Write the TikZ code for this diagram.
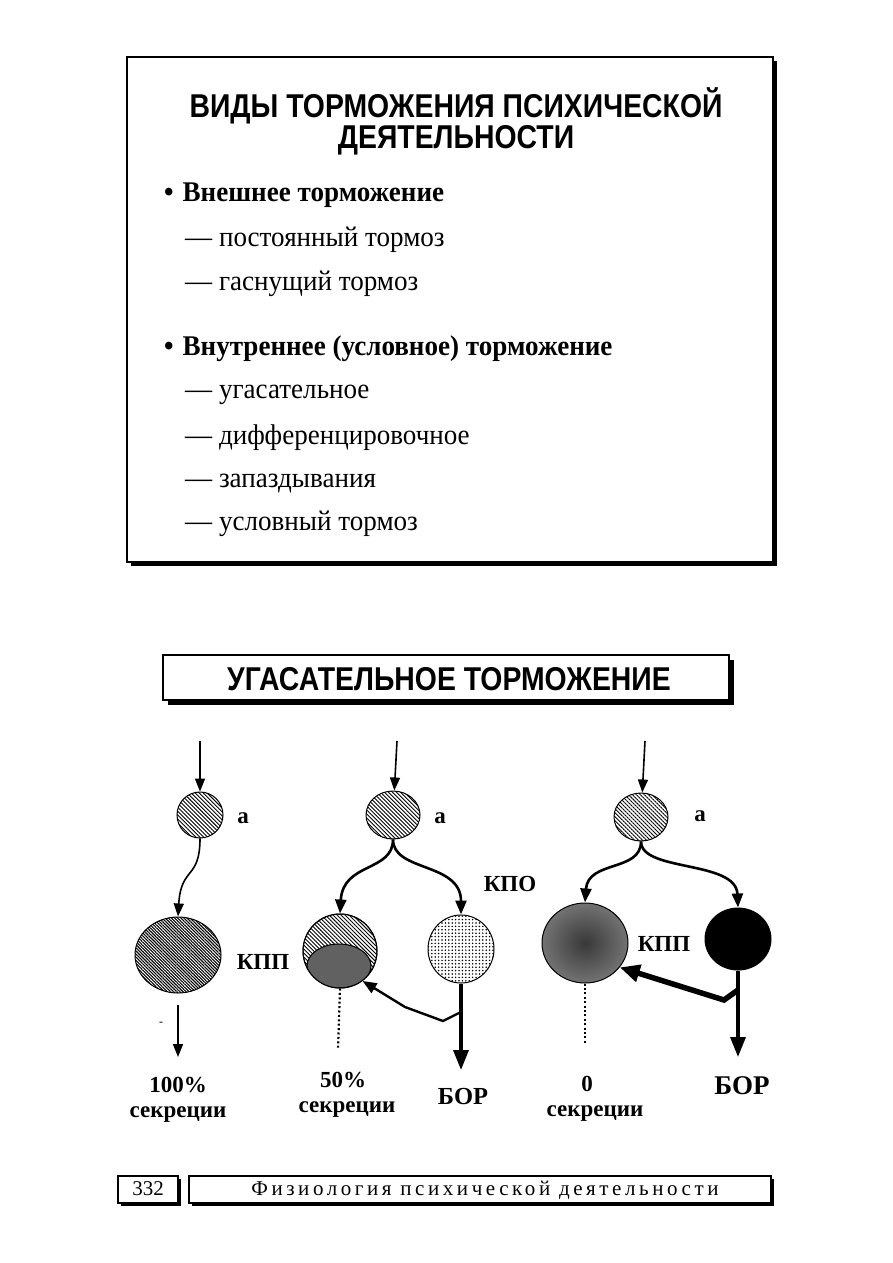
\documentclass[tikz,border=0pt]{standalone}
\usepackage{fontspec}
\setmainfont{Liberation Serif}
\newfontfamily\headfont[FakeStretch=0.86]{Liberation Sans}
\newfontfamily\bodyfont[FakeStretch=0.95]{Liberation Serif}
\usetikzlibrary{arrows.meta,patterns.meta,shapes.geometric}

\begin{document}
\begin{tikzpicture}[x=1pt, y=-1pt,
frame/.style={draw, line width=1.2pt, fill=white},
heading/.style={font=\headfont\bfseries\fontsize{33}{36}\selectfont, inner sep=0pt},
entry/.style={anchor=base west, inner sep=0pt, font=\bodyfont\fontsize{28.5}{30}\selectfont},
point/.style={entry, font=\bodyfont\bfseries\fontsize{28.5}{30}\selectfont},
tag/.style={inner sep=0pt, font=\bfseries\fontsize{23}{26}\selectfont},
note/.style={tag, anchor=base, font=\bfseries\fontsize{23}{26}\selectfont},
cell/.style={ellipse, draw, line width=1pt, inner sep=0pt},
hatch/.style={pattern={Lines[angle=-45, distance=2.8pt, line width=0.9pt]}},
dense/.style={pattern={Lines[angle=-45, distance=2.2pt, line width=1.1pt]}},
arrow/.style={-{Triangle[length=13pt, width=10pt]}, line width=1.6pt},
fork/.style={-{Triangle[length=14pt, width=11pt]}, line width=2.6pt},
outlet/.style={-{Triangle[length=20pt, width=15pt]}, line width=3.4pt},
trace/.style={line width=2.2pt, dash pattern=on 2pt off 2.4pt}
]
\useasboundingbox (0,0) rectangle (893,1263);

\fill (131,61) rectangle (777,566);
\draw[frame] (127,57) rectangle (773,562);
\node[heading] (t1) at (456,106) {ВИДЫ ТОРМОЖЕНИЯ ПСИХИЧЕСКОЙ};
\node[heading] (t2) at (456,140) {ДЕЯТЕЛЬНОСТИ};

\node[point] (b1) at (164,201) {\textbullet\hspace{9pt}Внешнее торможение};
\node[entry] (e1) at (185,246) {— постоянный тормоз};
\node[entry] (e2) at (185,290) {— гаснущий тормоз};
\node[point] (b2) at (164,355) {\textbullet\hspace{9pt}Внутреннее (условное) торможение};
\node[entry] (e3) at (185,398) {— угасательное};
\node[entry] (e4) at (185,444) {— дифференцировочное};
\node[entry] (e5) at (185,487) {— запаздывания};
\node[entry] (e6) at (185,530) {— условный тормоз};

\fill (168,660) rectangle (734,705);
\draw[frame] (163,655) rectangle (729,700);
\node[heading] (t3) at (449,679) {УГАСАТЕЛЬНОЕ ТОРМОЖЕНИЕ};

\coordinate (in1) at (200,741);
\node[cell, hatch, minimum width=46pt, minimum height=46pt] (a1) at (200,815) {};
\node[tag] (la1) at (243,818) {а};
\node[cell, dense, minimum width=86pt, minimum height=76pt] (k1) at (178,955) {};
\node[tag] (lk1) at (263,962) {КПП};
\coordinate (o1) at (178,1057);
\node[inner sep=0pt, font=\fontsize{12}{12}\selectfont] (m1) at (161,1024) {-};
\node[note] (p1) at (178,1092) {100\%};
\node[note] (s1) at (178,1117) {секреции};
\draw[arrow] (in1) -- (a1);
\draw[arrow] (a1.south) .. controls (200,880) and (181,866) .. (k1.north);
\draw[arrow, shorten <=11pt] (k1) -- (o1);

\coordinate (in2) at (397,741);
\node[cell, hatch, minimum width=54pt, minimum height=48pt] (a2) at (393,815) {};
\node[tag] (la2) at (440,818) {а};
\node[tag] (lk2) at (510,884) {КПО};
\node[cell, hatch, minimum width=74pt, minimum height=74pt] (k2) at (340,951) {};
\begin{scope}
\clip (340,951) circle (37pt);
\draw[line width=1pt, fill=black!62] (339,966) ellipse (32pt and 22pt);
\end{scope}
\draw[line width=1pt] (340,951) circle (37pt);
\node[cell, pattern={Dots[distance=3.4pt, radius=0.85pt]}, minimum width=66pt, minimum height=68pt] (r2) at (461,949) {};
\coordinate (d2) at (338,1050);
\coordinate (o2) at (461,1070);
\coordinate (j2) at (461,1012);
\node[note] (p2) at (343,1087) {50\%};
\node[note] (s2) at (347,1112) {секреции};
\node[note, font=\bfseries\fontsize{24.5}{26}\selectfont] (z2) at (463,1104) {БОР};
\draw[arrow] (in2) -- (a2);
\draw[fork] (a2.south) .. controls (393,872) and (343,862) .. (k2.north);
\draw[fork] (a2.south) .. controls (393,872) and (461,862) .. (r2.north);
\draw[trace] (k2.south) -- (d2);
\draw[outlet] (r2.south) -- (o2);
\draw[-{Triangle[length=14pt, width=11pt]}, line width=2.4pt] (j2) -- (443,1021) -- (405,1007) -- (k2.-53);

\coordinate (in3) at (645,741);
\node[cell, hatch, minimum width=54pt, minimum height=48pt] (a3) at (641,817) {};
\node[tag] (la3) at (700,816) {а};
\node[cell, inner color=black!78, outer color=black!55, minimum width=86pt, minimum height=80pt] (k3) at (585,943) {};
\node[tag] (lk3) at (664,944) {КПП};
\node[cell, fill=black, minimum width=66pt, minimum height=62pt] (r3) at (738,939) {};
\coordinate (d3) at (585,1045);
\coordinate (o3) at (738,1057);
\coordinate (j3) at (738,990);
\node[note] (p3) at (587,1091) {0};
\node[note] (s3) at (595,1116) {секреции};
\node[note, font=\bfseries\fontsize{27}{30}\selectfont] (z3) at (742,1094) {БОР};
\draw[arrow] (in3) -- (a3);
\draw[fork] (a3.south) .. controls (641,872) and (588,860) .. (k3.north);
\draw[fork] (a3.south) .. controls (641,872) and (736,860) .. (r3.north);
\draw[trace] (k3.south) -- (d3);
\draw[outlet] (r3.south) -- (o3);
\draw[-{Triangle[length=20pt, width=17pt]}, line width=5.5pt] (j3) -- (724,1000) -- (k3.-35);

\fill (121,1179) rectangle (181,1206);
\draw[frame] (118,1176) rectangle (178,1203);
\node[inner sep=0pt, font=\fontsize{21}{22}\selectfont] (n1) at (148,1189) {332};
\fill (192,1179) rectangle (774,1206);
\draw[frame] (189,1176) rectangle (771,1203);
\node[inner sep=0pt, font=\addfontfeature{LetterSpace=17}\fontsize{21}{22}\selectfont] (f1) at (485,1190) {Физиология психической деятельности};
\end{tikzpicture}
\end{document}
